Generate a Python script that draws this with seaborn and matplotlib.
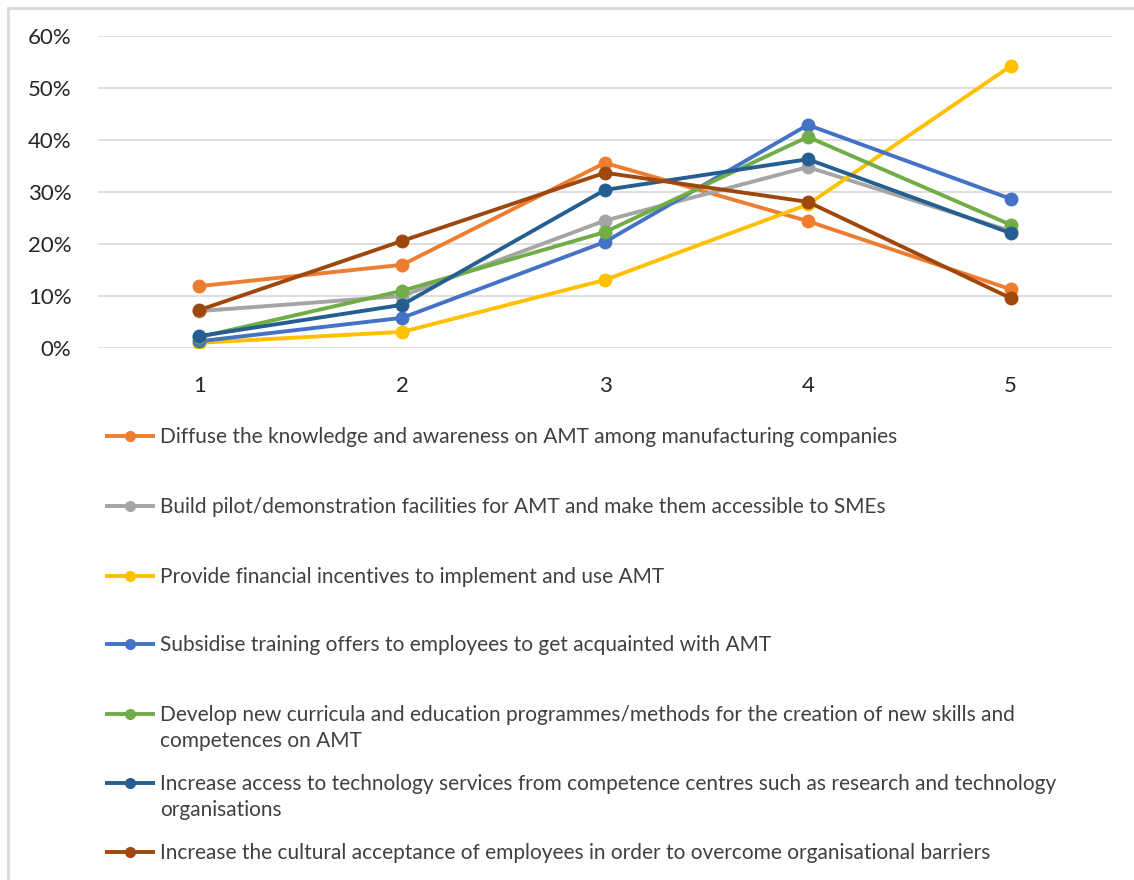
import numpy as np
import pandas as pd
import matplotlib
matplotlib.use("Agg")
import matplotlib.pyplot as plt
import seaborn as sns
from matplotlib.patches import Rectangle
from matplotlib.ticker import PercentFormatter

# データ
scores = [1, 2, 3, 4, 5]
labels = [
    "Diffuse the knowledge and awareness on AMT among manufacturing companies",
    "Build pilot/demonstration facilities for AMT and make them accessible to SMEs",
    "Provide financial incentives to implement and use AMT",
    "Subsidise training offers to employees to get acquainted with AMT",
    "Develop new curricula and education programmes/methods for the creation of new skills and\ncompetences on AMT",
    "Increase access to technology services from competence centres such as research and technology\norganisations",
    "Increase the cultural acceptance of employees in order to overcome organisational barriers",
]
diffuse = [0.119, 0.160, 0.356, 0.244, 0.113]
pilot = [0.071, 0.100, 0.245, 0.348, 0.225]
financial = [0.010, 0.031, 0.131, 0.276, 0.542]
training = [0.013, 0.058, 0.204, 0.429, 0.287]
curricula = [0.021, 0.110, 0.223, 0.406, 0.237]
access = [0.023, 0.083, 0.304, 0.363, 0.221]
cultural = [0.073, 0.206, 0.337, 0.281, 0.096]
colors = ["#ED7D31", "#A5A5A5", "#FFC000", "#4472C4", "#70AD47", "#255E91", "#9E480E"]

series = [diffuse, pilot, financial, training, curricula, access, cultural]
df = pd.concat(
    [pd.DataFrame({"score": scores, "share": vals, "measure": lab})
     for lab, vals in zip(labels, series)],
    ignore_index=True,
)

sns.set_theme(style="white")
plt.rcParams["font.family"] = ["Lato", "DejaVu Sans"]

W, H = 1134, 880
fig = plt.figure(figsize=(W / 100, H / 100), dpi=100)

# 外枠
fig.patches.append(Rectangle((8 / W, -0.1), 1.2, 1 - 8 / H + 0.1, transform=fig.transFigure,
                             fill=False, edgecolor="#D9D9D9", linewidth=2))

ax = fig.add_axes([98 / W, 1 - 348 / H, (1112 - 98) / W, (348 - 36) / H])
sns.lineplot(data=df, x="score", y="share", hue="measure", palette=colors,
             marker="o", markersize=10, markeredgewidth=0, linewidth=2.8,
             legend=False, ax=ax, sort=False)

ax.set_xlim(0.5, 5.5)
ax.set_ylim(0, 0.6)
ax.set_xticks(scores)
ax.set_yticks(np.arange(0, 0.61, 0.1))
ax.yaxis.set_major_formatter(PercentFormatter(1.0, decimals=0))
ax.grid(axis="y", color="#D9D9D9", linewidth=1.2)
ax.set_axisbelow(True)
for s in ax.spines.values():
    s.set_visible(False)
ax.tick_params(axis="both", length=0, labelsize=16, labelcolor="#262626")
ax.tick_params(axis="y", pad=19)
ax.tick_params(axis="x", pad=20)
ax.set_xlabel("")
ax.set_ylabel("")

# 凡例（手動）
lax = fig.add_axes([0, 0, 1, 1], facecolor="none")
lax.set_xlim(0, W)
lax.set_ylim(H, 0)
lax.axis("off")
rows = [436, 506, 576, 644, 714, 783, 852]
for lab, col, y in zip(labels, colors, rows):
    lax.plot([105, 155], [y, y], color=col, linewidth=2.8, solid_capstyle="butt")
    lax.plot([130], [y], marker="o", markersize=8, markeredgewidth=0, color=col)
    for i, line in enumerate(lab.split("\n")):
        lax.text(160, y + 7 + 26 * i, line, fontsize=15, color="#404040",
                 va="baseline", ha="left")

fig.savefig("out.png", dpi=100)
